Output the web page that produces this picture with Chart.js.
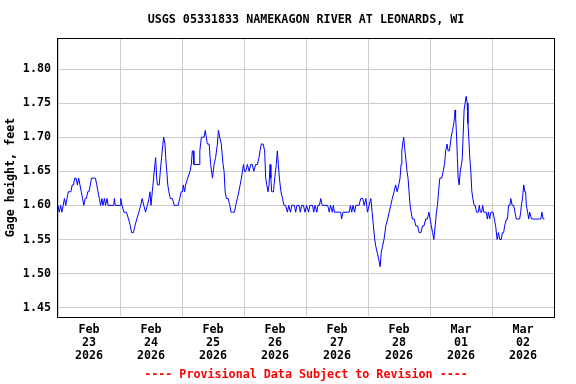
<!DOCTYPE html>
<html>
<head>
<meta charset="utf-8">
<script src="https://cdn.jsdelivr.net/npm/chart.js@4/dist/chart.umd.min.js"></script>
<style>
  html, body { margin: 0; padding: 0; background: #ffffff; }
  canvas { display: block; }
</style>
</head>
<body>
<canvas id="chart" width="576" height="384"></canvas>
<script>
// gage readings, [hour of day, feet], one array per day starting Feb 23
var feb23 = [[0,1.60],[0.5,1.59],[1,1.60],[1.5,1.59],[2,1.60],[2.5,1.61],[3,1.60],[3.5,1.61],[4,1.62],[5,1.62],[5.5,1.63],[6,1.63],[6.5,1.64],[7,1.64],[7.5,1.63],[8,1.64],[8.5,1.63],[9,1.62],[9.5,1.61],[10,1.60],[10.5,1.61],[11,1.61],[11.5,1.62],[12,1.62],[12.5,1.63],[13,1.64],[14,1.64],[14.5,1.64],[15,1.63],[15.5,1.62],[16,1.61],[16.5,1.60],[17,1.61],[17.4,1.60],[18,1.61],[18.4,1.60],[19,1.61],[19.4,1.60],[21.6,1.60],[21.8,1.61],[22.2,1.60],[24,1.60]];
var feb24 = [[0.3,1.61],[0.8,1.60],[1.5,1.59],[2.5,1.59],[3.3,1.58],[4,1.57],[4.5,1.56],[5.2,1.56],[5.8,1.57],[6.5,1.58],[7.3,1.59],[8,1.60],[8.6,1.61],[9.2,1.60],[9.9,1.59],[10.6,1.60],[11.2,1.61],[11.6,1.62],[12,1.60],[12.5,1.62],[13,1.64],[13.5,1.66],[13.8,1.67],[14.2,1.64],[14.5,1.63],[15.2,1.63],[15.6,1.65],[16.1,1.67],[16.6,1.69],[16.9,1.70],[17.4,1.69],[17.7,1.67],[18.1,1.65],[18.5,1.63],[18.9,1.62],[19.5,1.61],[20.3,1.61],[21,1.60],[22,1.60],[22.5,1.60],[23.1,1.61],[23.7,1.62]];
var feb25 = [[0.2,1.62],[0.5,1.63],[1,1.62],[1.4,1.63],[2.2,1.64],[3.1,1.65],[3.6,1.66],[4,1.68],[4.3,1.68],[4.6,1.66],[6.6,1.66],[6.9,1.68],[7.5,1.70],[8.5,1.70],[9,1.71],[9.4,1.70],[9.8,1.69],[10.5,1.69],[11.1,1.66],[11.8,1.64],[12.4,1.66],[13,1.67],[13.7,1.69],[14.1,1.71],[14.6,1.70],[15.2,1.69],[15.9,1.66],[16.3,1.65],[16.7,1.62],[17.2,1.61],[17.9,1.61],[18.5,1.60],[19,1.59],[19.5,1.59],[20.3,1.59],[20.8,1.60],[21.4,1.61],[22,1.62],[22.5,1.63],[23,1.64],[23.4,1.65],[23.8,1.66]];
var feb26 = [[0.2,1.65],[0.7,1.65],[1.3,1.66],[2,1.65],[2.6,1.66],[3.2,1.66],[3.8,1.65],[4.5,1.66],[5.2,1.66],[5.8,1.67],[6.2,1.68],[6.7,1.69],[7.4,1.69],[8,1.68],[8.4,1.64],[8.8,1.63],[9.3,1.62],[9.7,1.63],[10.1,1.66],[10.4,1.64],[10.7,1.62],[11.4,1.62],[11.9,1.64],[12.5,1.66],[12.9,1.68],[13.3,1.66],[13.7,1.64],[14.3,1.62],[14.9,1.61],[15.5,1.60],[16.1,1.60],[16.8,1.59],[17.3,1.60],[18,1.59],[18.5,1.60],[19.5,1.60],[20,1.59],[20.5,1.60],[21.3,1.60],[21.8,1.59],[22.3,1.60],[23,1.60],[23.6,1.59]];
var feb27 = [[0.2,1.60],[1,1.59],[1.5,1.60],[2.5,1.60],[3,1.59],[3.5,1.60],[4.2,1.59],[4.6,1.60],[5.2,1.60],[5.7,1.61],[6.3,1.60],[8.4,1.60],[9,1.59],[9.5,1.60],[10.2,1.59],[10.6,1.60],[11,1.59],[13.4,1.59],[13.8,1.58],[14.3,1.59],[16.7,1.59],[17.2,1.60],[17.7,1.59],[18.2,1.60],[18.8,1.59],[19.3,1.60],[20.5,1.60],[21.2,1.61],[22,1.61],[22.5,1.60],[23.2,1.61],[23.8,1.59]];
var feb28 = [[0.4,1.60],[1.1,1.61],[1.6,1.59],[2.1,1.57],[2.6,1.55],[3,1.54],[3.6,1.53],[4.2,1.52],[4.7,1.51],[5.1,1.53],[5.6,1.54],[6.2,1.55],[6.9,1.57],[7.6,1.58],[8.2,1.59],[8.8,1.60],[9.4,1.61],[10.1,1.62],[10.7,1.63],[11.3,1.62],[11.9,1.63],[12.4,1.64],[12.8,1.66],[13.1,1.68],[13.4,1.69],[13.8,1.70],[14.3,1.68],[14.6,1.67],[15.1,1.65],[15.5,1.64],[15.9,1.62],[16.3,1.60],[16.7,1.59],[17.2,1.58],[17.9,1.58],[18.5,1.57],[19.2,1.57],[19.8,1.56],[20.5,1.56],[21.1,1.57],[21.7,1.57],[22.3,1.58],[23,1.58],[23.6,1.59]];
var mar01 = [[0.5,1.57],[1,1.56],[1.5,1.55],[2,1.57],[2.5,1.59],[2.9,1.60],[3.3,1.62],[3.8,1.64],[4.5,1.64],[5.1,1.65],[5.6,1.66],[6.1,1.68],[6.6,1.69],[7,1.68],[7.5,1.68],[8.2,1.70],[8.7,1.71],[9.2,1.72],[9.5,1.73],[9.7,1.74],[9.9,1.73],[10.2,1.71],[10.6,1.67],[10.9,1.64],[11.3,1.63],[11.7,1.65],[12.2,1.66],[12.5,1.67],[12.8,1.70],[13.2,1.74],[13.6,1.75],[14,1.76],[14.4,1.75],[14.7,1.72],[15,1.70],[15.4,1.67],[15.8,1.65],[16.2,1.62],[16.6,1.61],[17.1,1.60],[17.5,1.60],[18,1.59],[18.7,1.59],[19.1,1.60],[19.5,1.59],[20,1.59],[20.4,1.60],[20.8,1.59],[21.8,1.59],[22.2,1.58],[22.6,1.59],[23.1,1.58],[23.6,1.59]];
var mar02 = [[0.4,1.59],[0.9,1.58],[1.4,1.57],[2,1.55],[2.5,1.56],[3,1.55],[3.6,1.55],[4,1.56],[4.5,1.56],[4.9,1.57],[5.6,1.58],[6,1.58],[6.4,1.60],[6.9,1.60],[7.3,1.61],[7.8,1.60],[8.4,1.60],[8.9,1.59],[9.4,1.58],[10.7,1.58],[11.1,1.59],[11.4,1.60],[11.8,1.61],[12.3,1.63],[12.7,1.62],[13,1.62],[13.3,1.60],[13.8,1.59],[14.2,1.58],[14.6,1.59],[15.3,1.58],[18.5,1.58],[18.9,1.58],[19.3,1.59],[19.8,1.58],[20.3,1.58]];

var tickMonths = ["Feb", "Feb", "Feb", "Feb", "Feb", "Feb", "Mar", "Mar"];
var tickDays = ["23", "24", "25", "26", "27", "28", "01", "02"];
var tickYear = "2026";
var yTickValues = [1.45, 1.50, 1.55, 1.60, 1.65, 1.70, 1.75, 1.80];
var yMin = 1.4372, yMax = 1.8446;

var days = [feb23, feb24, feb25, feb26, feb27, feb28, mar01, mar02];
var points = [];
days.forEach(function (day, d) {
    day.forEach(function (r) {
        points.push({x: d * 24 + r[0], y: r[1]});
    });
});

var fontFamily = "'DejaVu Sans Mono', monospace";
Chart.defaults.color = "#000000";

var framePlugin = {
    id: "frame",
    afterDraw: function (chart) {
        var a = chart.chartArea;
        var ctx = chart.ctx;
        ctx.save();
        ctx.strokeStyle = "#000000";
        ctx.lineWidth = 1;
        ctx.strokeRect(Math.round(a.left) - 0.5, Math.round(a.top) - 0.5,
            Math.round(a.right - a.left) + 1, Math.round(a.bottom - a.top) + 1);
        ctx.restore();
    }
};

new Chart(document.getElementById("chart").getContext("2d"), {
    type: "line",
    data: {
        datasets: [{
            data: points,
            borderColor: "#0000ff",
            borderWidth: 1,
            pointRadius: 0,
            tension: 0,
            fill: false
        }]
    },
    options: {
        responsive: false,
        animation: false,
        layout: {padding: {left: 0, right: 22, top: 0, bottom: 0}},
        plugins: {
            legend: {display: false},
            tooltip: {enabled: false},
            title: {
                display: true,
                fullSize: false,
                text: "USGS 05331833 NAMEKAGON RIVER AT LEONARDS, WI",
                font: {family: fontFamily, size: 11.7, weight: "bold", lineHeight: 1.2},
                color: "#000000",
                padding: {top: 13, bottom: 11.6}
            },
            subtitle: {
                display: true,
                fullSize: false,
                position: "bottom",
                text: "---- Provisional Data Subject to Revision ----",
                font: {family: fontFamily, size: 11.7, weight: "bold", lineHeight: 1.2},
                color: "#ff0000",
                padding: {top: 5.8, bottom: 1.8}
            }
        },
        scales: {
            x: {
                type: "linear",
                min: 0,
                max: 192,
                border: {display: false},
                afterFit: function (scale) {
                    scale.height = 46;
                },
                grid: {
                    drawTicks: false,
                    color: function (c) {
                        return c.tick && c.tick.value % 24 === 0 ? "#cccccc" : "rgba(0,0,0,0)";
                    }
                },
                ticks: {
                    stepSize: 12,
                    autoSkip: false,
                    maxRotation: 0,
                    padding: 7,
                    font: {family: fontFamily, size: 11.7, weight: "bold", lineHeight: 1.11},
                    callback: function (v) {
                        var i = (v - 12) / 24;
                        if (Number.isInteger(i) && i >= 0 && i < tickDays.length) {
                            return [tickMonths[i], tickDays[i], tickYear];
                        }
                        return "";
                    }
                }
            },
            y: {
                min: yMin,
                max: yMax,
                border: {display: false},
                afterBuildTicks: function (scale) {
                    scale.ticks = yTickValues.map(function (v) { return {value: v}; });
                },
                afterFit: function (scale) {
                    scale.width = 58;
                },
                grid: {drawTicks: false, color: "#cccccc"},
                ticks: {
                    padding: 7,
                    font: {family: fontFamily, size: 11.7, weight: "bold"},
                    callback: function (v) { return Number(v).toFixed(2); }
                },
                title: {
                    display: true,
                    text: "Gage height, feet",
                    font: {family: fontFamily, size: 11.7, weight: "bold", lineHeight: 1.2},
                    padding: {top: 4, bottom: 4}
                }
            }
        }
    },
    plugins: [framePlugin]
});
</script>
</body>
</html>
